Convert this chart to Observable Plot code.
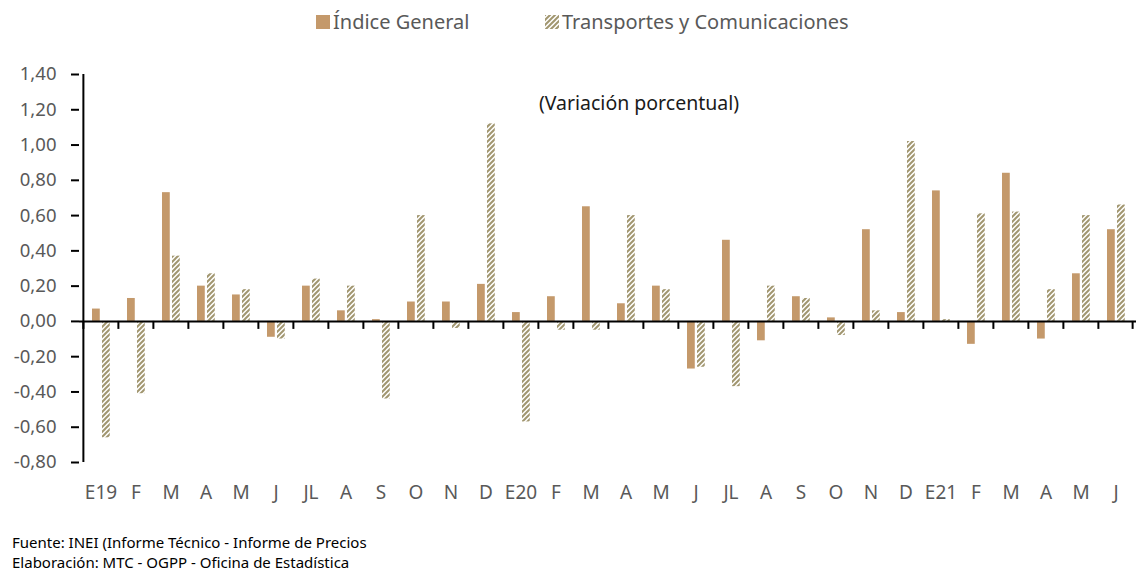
<!DOCTYPE html>
<html>
<head>
<meta charset="utf-8">
<script src="https://cdn.jsdelivr.net/npm/d3@7"></script>
<script src="https://cdn.jsdelivr.net/npm/@observablehq/plot@0.6"></script>
<style>
  html, body { margin: 0; padding: 0; background: #fff; }
  body { width: 1136px; height: 575px; overflow: hidden; font-family: "Noto Sans", sans-serif; }
  #legend { height: 44px; position: relative; font-size: 20px; color: #595959; }
  .item { position: absolute; top: 8px; display: flex; align-items: center; white-space: nowrap; }
  .sw { width: 14px; height: 14px; margin-right: 3px; }
  #foot { margin-top: 22px; padding-left: 12px; font-size: 15px; line-height: 20px; color: #000; }
</style>
</head>
<body>
<svg width="0" height="0" style="position:absolute">
  <defs>
    <pattern id="hatch" patternUnits="userSpaceOnUse" width="5" height="5">
      <rect width="5" height="5" fill="#ffffff"></rect>
      <path d="M-1,1 l2,-2 M0,5 l5,-5 M4,6 l2,-2" stroke="#A1966F" stroke-width="2"></path>
    </pattern>
  </defs>
</svg>
<div id="legend">
  <div class="item" style="left:316px"><svg class="sw"><rect width="14" height="14" fill="#C4996B"></rect></svg><span>Índice General</span></div>
  <div class="item" style="left:545px"><svg class="sw"><rect width="14" height="14" fill="url(#hatch)"></rect></svg><span>Transportes y Comunicaciones</span></div>
</div>
<div id="chart"></div>
<div id="foot">
  <div>Fuente: INEI (Informe Técnico - Informe de Precios</div>
  <div>Elaboración: MTC - OGPP - Oficina de Estadística</div>
</div>
<script>
const labels = ["E19","F","M","A","M","J","JL","A","S","O","N","D","E20","F","M","A","M","J","JL","A","S","O","N","D","E21","F","M","A","M","J"];
const indiceGeneral = [0.07,0.13,0.73,0.20,0.15,-0.09,0.20,0.06,0.01,0.11,0.11,0.21,0.05,0.14,0.65,0.10,0.20,-0.27,0.46,-0.11,0.14,0.02,0.52,0.05,0.74,-0.13,0.84,-0.10,0.27,0.52];
const transportes = [-0.66,-0.41,0.37,0.27,0.18,-0.10,0.24,0.20,-0.44,0.60,-0.04,1.12,-0.57,-0.05,-0.05,0.60,0.18,-0.26,-0.37,0.20,0.13,-0.08,0.06,1.02,0.01,0.61,0.62,0.18,0.60,0.66];
const yTicks = [-0.8,-0.6,-0.4,-0.2,0,0.2,0.4,0.6,0.8,1.0,1.2,1.4];
const subtitle = "(Variación porcentual)";

const data = labels.map((l, i) => ({i, label: l, ig: indiceGeneral[i], tc: transportes[i]}));
const W = 1136, ML = 79, MR = 0;
const bw = (W - ML - MR) / labels.length;
const fmt = d => d.toFixed(2).replace(".", ",");

const chart = Plot.plot({
  width: W,
  height: 466,
  marginTop: 30,
  marginLeft: ML,
  marginRight: MR,
  marginBottom: 48,
  style: {fontFamily: "Noto Sans, sans-serif", background: "transparent", overflow: "visible"},
  x: {type: "band", domain: d3.range(labels.length), padding: 0, axis: null},
  y: {domain: [-0.8, 1.4], axis: null},
  marks: [
    Plot.barY(data, {x: "i", y: "ig", fill: "#C4996B", insetLeft: 9, insetRight: bw - 17}),
    Plot.barY(data, {x: "i", y: "tc", fill: "url(#hatch)", insetLeft: 19, insetRight: bw - 27}),
    Plot.ruleY([0], {stroke: "#000", strokeWidth: 2}),
    Plot.ruleX(d3.range(labels.length), {x: d => d, y1: 0, y2: 0, dx: -bw / 2, insetBottom: -8, stroke: "#000", strokeWidth: 2}),
    Plot.ruleX([labels.length - 1], {x: d => d, y1: 0, y2: 0, dx: bw / 2 - 1, insetBottom: -8, stroke: "#000", strokeWidth: 2}),
    Plot.ruleX([0], {x: d => d, y1: -0.8, y2: 1.4, dx: -bw / 2, stroke: "#000", strokeWidth: 2}),
    Plot.axisY({ticks: yTicks, tickFormat: fmt, tickSize: 8, tickPadding: 15, fontSize: 18.5, stroke: "#000", strokeWidth: 2, fill: "#595959", label: null}),
    Plot.axisX({tickFormat: i => labels[i], tickSize: 0, tickPadding: 23, fontSize: 19, fill: "#595959", label: null}),
    Plot.text([subtitle], {text: d => d, frameAnchor: "top", dx: 31, dy: 22, fontSize: 19.5, fill: "#1a1a1a"})
  ]
});
document.getElementById("chart").appendChild(chart);
</script>
</body>
</html>
